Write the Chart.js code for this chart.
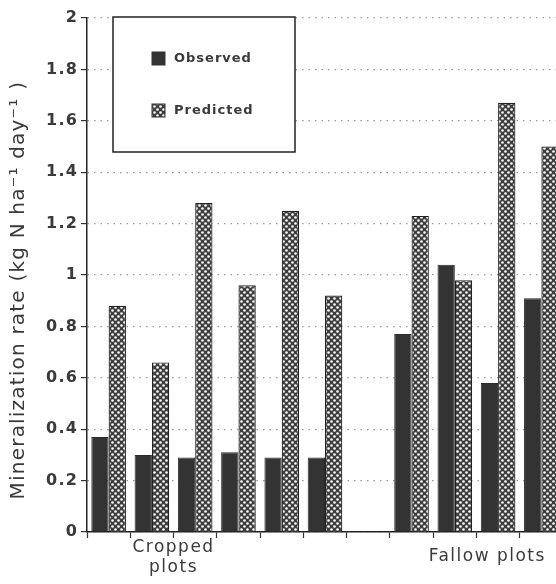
<!DOCTYPE html>
<html>
<head>
<meta charset="utf-8">
<script src="https://cdn.jsdelivr.net/npm/chart.js"></script>
<style>
  html, body { margin: 0; padding: 0; background: #fff; overflow: hidden; }
  #wrap { width: 563px; height: 584px; position: relative; }
</style>
</head>
<body>
<div id="wrap"><canvas id="chart"></canvas></div>
<script>
"use strict";
// Dados
const plots = ['C1', 'C2', 'C3', 'C4', 'C5', 'C6', '', 'F1', 'F2', 'F3', 'F4'];
const observed = [0.37, 0.30, 0.29, 0.31, 0.29, 0.29, null, 0.77, 1.04, 0.58, 0.91];
const predicted = [0.88, 0.66, 1.28, 0.96, 1.25, 0.92, null, 1.23, 0.98, 1.67, 1.50];
const seriesNames = ['Observed', 'Predicted'];
const croppedLabel = ['Cropped', 'plots'];
const fallowLabel = 'Fallow plots';
// espaços no fim deslocam o título um pouco para baixo, como no original
const yTitle = 'Mineralization rate (kg N ha\u207B\u00B9 day\u207B\u00B9 )    ';

const FONT = '"DejaVu Sans", sans-serif';
const INK = '#3a3a3a';

// padrão quadriculado das barras "Predicted"
function makePattern() {
  const tile = document.createElement('canvas');
  tile.width = 6; tile.height = 6;
  const t = tile.getContext('2d');
  t.fillStyle = '#3e3e3e';
  t.fillRect(0, 0, 6, 6);
  t.fillStyle = '#ffffff';
  [[1.5, 1.5], [4.5, 4.5]].forEach(([x, y]) => {
    t.beginPath(); t.arc(x, y, 1.3, 0, Math.PI * 2); t.fill();
  });
  return t.createPattern(tile, 'repeat');
}
const hatch = makePattern();

// espaçamento de letras para os textos do Chart.js
const spacing = {
  id: 'spacing',
  beforeDraw(chart) { chart.ctx.letterSpacing = '1.2px'; },
  afterDraw(chart) { chart.ctx.letterSpacing = '0px'; }
};

// legenda dentro da área do gráfico, com moldura
const boxLegend = {
  id: 'boxLegend',
  afterDraw(chart) {
    const { ctx, chartArea } = chart;
    const x0 = chartArea.left + 26, y0 = chartArea.top - 1;
    ctx.save();
    ctx.letterSpacing = '1px';
    ctx.strokeStyle = '#222';
    ctx.lineWidth = 1.5;
    ctx.fillStyle = '#fff';
    ctx.fillRect(x0, y0, 182, 135);
    ctx.strokeRect(x0, y0, 182, 135);
    ctx.font = 'bold 13px ' + FONT;
    ctx.textBaseline = 'middle';
    chart.data.datasets.forEach((ds, i) => {
      const cy = y0 + 41 + i * 52;
      ctx.fillStyle = ds.backgroundColor;
      ctx.fillRect(x0 + 39, cy - 6, 13, 13);
      ctx.lineWidth = 1;
      ctx.strokeStyle = '#333';
      ctx.strokeRect(x0 + 39, cy - 6, 13, 13);
      ctx.fillStyle = INK;
      ctx.fillText(ds.label, x0 + 61, cy + 1);
    });
    ctx.restore();
  }
};

// rótulos dos grupos no eixo x
const groupLabels = {
  id: 'groupLabels',
  afterDraw(chart) {
    const { ctx } = chart;
    const x = chart.scales.x;
    ctx.save();
    ctx.font = '17px ' + FONT;
    ctx.letterSpacing = '1.5px';
    ctx.fillStyle = INK;
    ctx.textAlign = 'center';
    ctx.textBaseline = 'middle';
    const cx = x.getPixelForValue(1.5);
    croppedLabel.forEach((t, i) => ctx.fillText(t, cx, x.top + 16 + i * 20));
    ctx.fillText(fallowLabel, x.getPixelForValue(8.75), x.top + 25);
    ctx.restore();
  }
};

new Chart(document.getElementById('chart'), {
  type: 'bar',
  data: {
    labels: plots,
    datasets: [{
      label: seriesNames[0],
      data: observed,
      backgroundColor: '#333333',
      borderColor: '#2a2a2a',
      borderWidth: 1
    }, {
      label: seriesNames[1],
      data: predicted,
      backgroundColor: hatch,
      borderColor: '#222',
      borderWidth: 1.2
    }]
  },
  plugins: [spacing, boxLegend, groupLabels],
  options: {
    responsive: true,
    maintainAspectRatio: false,
    animation: false,
    layout: { padding: { top: 18, right: 0, bottom: 0, left: 0 } },
    datasets: { bar: { categoryPercentage: 0.8, barPercentage: 1.0 } },
    plugins: {
      legend: { display: false },
      tooltip: { enabled: false }
    },
    scales: {
      x: {
        offset: true,
        grid: { display: true, offset: true, drawOnChartArea: false, drawTicks: true, tickLength: 6, tickColor: '#333', tickWidth: 1.2 },
        border: { display: true, color: '#222', width: 1.5 },
        ticks: { display: false },
        afterFit: (s) => { s.height = 52; }
      },
      y: {
        min: 0,
        max: 2,
        ticks: {
          stepSize: 0.2,
          color: INK,
          padding: 3,
          font: { family: FONT, size: 16, weight: 'bold' },
          callback: (v) => String(Number(v.toFixed(1)))
        },
        grid: { color: '#9a9a9a', lineWidth: 1.2, tickColor: '#333', tickLength: 6, tickWidth: 1.2 },
        border: { display: true, color: '#222', width: 1.5, dash: [1.5, 5] },
        title: { display: true, text: yTitle, color: INK, padding: { top: 7, bottom: 0 }, font: { family: FONT, size: 20 } },
        afterFit: (s) => { s.width = 87; }
      }
    }
  }
});
</script>
</body>
</html>
